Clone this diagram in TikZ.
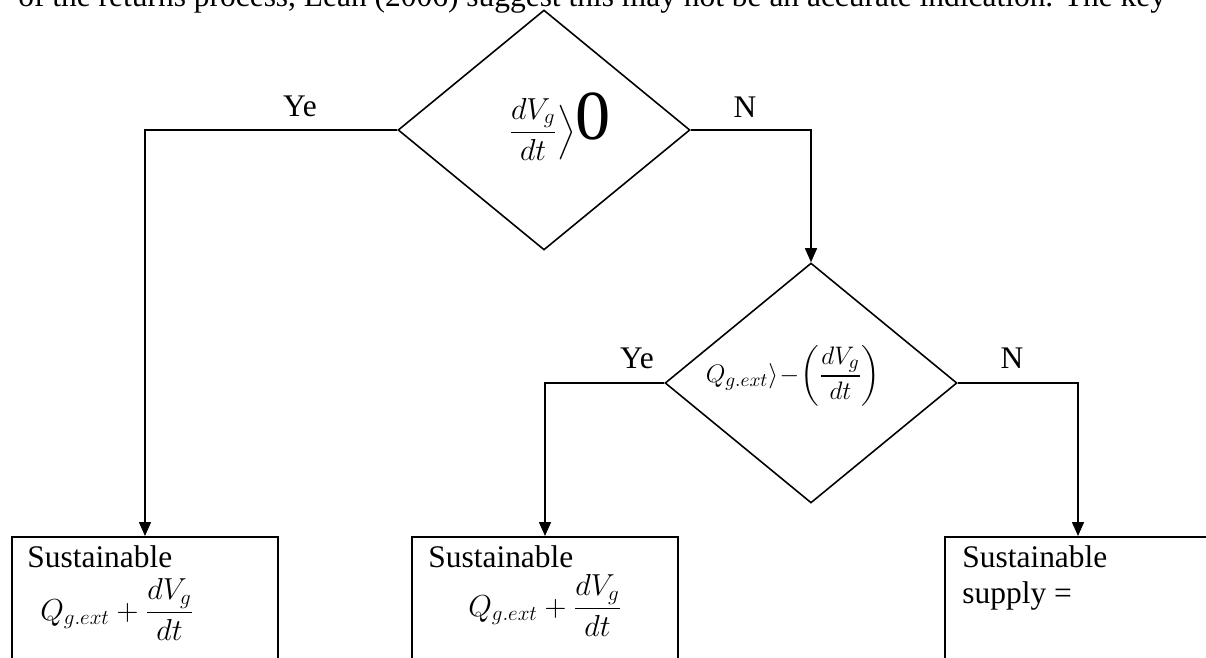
\documentclass[tikz,border=0pt]{standalone}
\usepackage{fontspec}
\setmainfont{Liberation Serif}
\usepackage{amsmath}
\usetikzlibrary{shapes.geometric, arrows.meta}

\begin{document}
\begin{tikzpicture}[x=0.02cm, y=-0.02cm,
    every node/.style={font=\fontsize{17.9}{21}\selectfont, inner sep=0pt},
    decision/.style={diamond, draw, line width=0.9pt, aspect=1.2,
      minimum width=5.84cm, minimum height=4.8cm},
    supplybox/.style={rectangle, draw, line width=0.9pt, anchor=north,
      minimum width=5.32cm, minimum height=3cm},
    eqfont/.style={font=\fontsize{16.5}{19}\selectfont},
    link/.style={line width=0.9pt, -{Triangle[length=0.28cm, width=0.24cm]}}]
  \useasboundingbox (0,0) rectangle (1206,658);
  \clip (0,0) rectangle (1206,658);
  % clipped line of the running text above the chart
  \node[anchor=base west] (para) at (18,7)
    {of the returns process, Lean (2006) suggest this may not be an accurate indication. The key};
  % decisions
  \node[decision] (gain) at (544,130) {};
  \node (gainq) at (560,127)
    {$\displaystyle\frac{dV_g}{dt}\Big\rangle$\fontsize{40}{40}\selectfont 0};
  \node[decision] (draft) at (811,383) {};
  \node[font=\fontsize{15.5}{18}\selectfont] (draftq) at (793,376)
    {$\displaystyle Q_{g.ext}\rangle\!-\!\left(\frac{dV_g}{dt}\right)$};
  % outcomes
  \node[supplybox] (boxA) at (145,536) {};
  \node[supplybox] (boxB) at (545,536) {};
  \node[supplybox] (boxC) at (1078,536) {};
  \node[anchor=base west] (txtA) at (27,567) {Sustainable};
  \node[anchor=base west, eqfont] (eqA) at (40,620)
    {$\displaystyle Q_{g.ext}+\frac{dV_g}{dt}$};
  \node[anchor=base west] (txtB) at (428,567) {Sustainable};
  \node[anchor=base west, eqfont] (eqB) at (468,616)
    {$\displaystyle Q_{g.ext}+\frac{dV_g}{dt}$};
  \node[anchor=base west] (txtC) at (962,567) {Sustainable};
  \node[anchor=base west] (txtC2) at (962,603) {supply =};
  % connectors
  \draw[link] (gain.west) -| (boxA.north);
  \draw[link] (gain.east) -| (draft.north);
  \draw[link] (draft.west) -| (boxB.north);
  \draw[link] (draft.east) -| (boxC.north);
  \node[anchor=base] (yesA) at (300,117) {Ye};
  \node[anchor=base] (noA) at (745,118) {N};
  \node[anchor=base] (yesB) at (637,368) {Ye};
  \node[anchor=base] (noB) at (1012,368) {N};
\end{tikzpicture}
\end{document}
